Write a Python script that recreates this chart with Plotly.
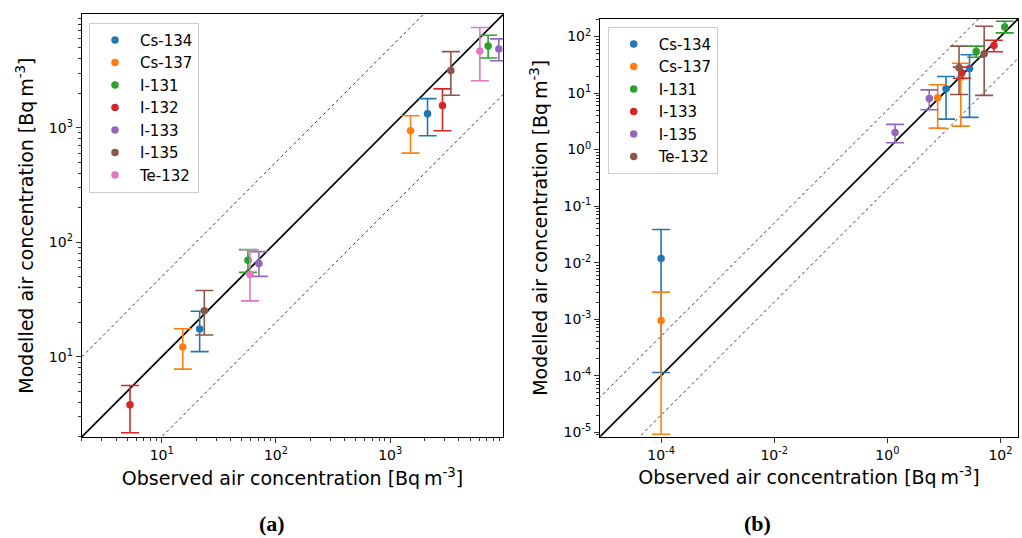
import numpy as np
import plotly.graph_objects as go

# ---------------- data: panel (a) ----------------
species_a = ["Cs-134", "Cs-137", "I-131", "I-132", "I-133", "I-135", "Te-132"]
colors_a = ["#1f77b4", "#ff7f0e", "#2ca02c", "#d62728", "#9467bd", "#8c564b", "#e377c2"]
obs_a = {
    "Cs-134": [21.5, 2123], "Cs-137": [15.3, 1507], "I-131": [56.9, 7195],
    "I-132": [5.28, 2870], "I-133": [71.0, 8930], "I-135": [23.6, 3396],
    "Te-132": [59.3, 6095],
}
mod_a = {
    "Cs-134": [17.5, 1327], "Cs-137": [12.2, 942], "I-131": [69.5, 5176],
    "I-132": [3.82, 1560], "I-133": [65.4, 4875], "I-135": [25.2, 3162],
    "Te-132": [52.2, 4677],
}
mod_a_hi = {
    "Cs-134": [25.0, 1795], "Cs-137": [17.6, 1273], "I-131": [86.3, 6410],
    "I-132": [5.61, 2183], "I-133": [82.8, 5960], "I-135": [37.9, 4613],
    "Te-132": [86.0, 7500],
}
mod_a_lo = {
    "Cs-134": [11.1, 851], "Cs-137": [7.8, 600], "I-131": [54.6, 4064],
    "I-132": [2.17, 942], "I-133": [50.4, 3846], "I-135": [15.5, 1923],
    "Te-132": [30.8, 2570],
}

# ---------------- data: panel (b) ----------------
species_b = ["Cs-134", "Cs-137", "I-131", "I-133", "I-135", "Te-132"]
colors_b = ["#1f77b4", "#ff7f0e", "#2ca02c", "#d62728", "#9467bd", "#8c564b"]
obs_b = {
    "Cs-134": [1e-4, 10.9, 28.4], "Cs-137": [1e-4, 7.76, 19.9],
    "I-131": [37.2, 119], "I-133": [20.7, 76.7], "I-135": [1.37, 5.52],
    "Te-132": [18.5, 51.5],
}
mod_b = {
    "Cs-134": [0.0118, 11.9, 27.2], "Cs-137": [9.5e-4, 8.26, 19.1],
    "I-131": [54.3, 148], "I-133": [22.9, 69.3], "I-135": [2.01, 8.04],
    "Te-132": [28.0, 49.4],
}
mod_b_hi = {
    "Cs-134": [0.0385, 19.6, 47.5], "Cs-137": [3.0e-3, 14.0, 33.7],
    "I-131": [67.5, 186], "I-133": [28.7, 86], "I-135": [2.79, 11.4],
    "Te-132": [67.5, 152],
}
mod_b_lo = {
    "Cs-134": [1.14e-4, 3.46, 3.71], "Cs-137": [9.2e-6, 2.40, 2.60],
    "I-131": [43.1, 116], "I-133": [18.3, 53.7], "I-135": [1.32, 5.07],
    "Te-132": [9.44, 9.08],
}

# axis limits (log10) and reference factor
range_a = [0.30, 3.99]
range_b = [-5.08, 2.31]
factor = 5.0

tickvals_a = [10, 100, 1000]
ticktext_a = ["10<sup>1</sup>", "10<sup>2</sup>", "10<sup>3</sup>"]
xtickvals_b = [1e-4, 1e-2, 1, 100]
xticktext_b = ["10<sup>-4</sup>", "10<sup>-2</sup>", "10<sup>0</sup>", "10<sup>2</sup>"]
ytickvals_b = [1e-5, 1e-4, 1e-3, 1e-2, 1e-1, 1, 10, 100]
yticktext_b = ["10<sup>-5</sup>", "10<sup>-4</sup>", "10<sup>-3</sup>", "10<sup>-2</sup>",
               "10<sup>-1</sup>", "10<sup>0</sup>", "10<sup>1</sup>", "10<sup>2</sup>"]

xtitle = "Observed air concentration [Bq\u2009m<sup>-3</sup>]"
ytitle = "Modelled air concentration [Bq\u2009m<sup>-3</sup>]"

W, H = 1022, 538
FONT = "DejaVu Sans"

fig = go.Figure()


def minor_vals(lo, hi):
    out = []
    for d in range(int(np.floor(lo)) - 1, int(np.ceil(hi)) + 1):
        for m in range(2, 10):
            out.append(m * 10.0 ** d)
    return out


def add_ref_lines(rng, xa, ya):
    lo, hi = 10 ** (rng[0] - 1), 10 ** (rng[1] + 1)
    xs = [lo, hi]
    fig.add_trace(go.Scatter(x=xs, y=xs, mode="lines", xaxis=xa, yaxis=ya,
                             line=dict(color="black", width=1.7), showlegend=False,
                             hoverinfo="skip"))
    for f in (factor, 1 / factor):
        fig.add_trace(go.Scatter(x=xs, y=[v * f for v in xs], mode="lines", xaxis=xa,
                                 yaxis=ya, line=dict(color="#222222", width=0.9,
                                                     dash="3px,3px"),
                                 showlegend=False, hoverinfo="skip"))


add_ref_lines(range_a, "x", "y")
add_ref_lines(range_b, "x2", "y2")

for sp, c in zip(species_a, colors_a):
    y = np.array(mod_a[sp]); hi = np.array(mod_a_hi[sp]); lo = np.array(mod_a_lo[sp])
    fig.add_trace(go.Scatter(
        x=obs_a[sp], y=y, mode="markers", name=sp, xaxis="x", yaxis="y",
        legend="legend",
        marker=dict(color=c, size=7.5),
        error_y=dict(type="data", symmetric=False, array=hi - y, arrayminus=y - lo,
                     color=c, thickness=1.6, width=9),
    ))

for sp, c in zip(species_b, colors_b):
    y = np.array(mod_b[sp]); hi = np.array(mod_b_hi[sp]); lo = np.array(mod_b_lo[sp])
    fig.add_trace(go.Scatter(
        x=obs_b[sp], y=y, mode="markers", name=sp, xaxis="x2", yaxis="y2",
        legend="legend2",
        marker=dict(color=c, size=7.5),
        error_y=dict(type="data", symmetric=False, array=hi - y, arrayminus=y - lo,
                     color=c, thickness=1.6, width=9),
    ))

axis_common = dict(type="log", showgrid=False, zeroline=False, showline=True,
                   linecolor="black", linewidth=1, mirror=True, ticks="outside",
                   ticklen=5, tickwidth=1, tickcolor="#333333", automargin=False,
                   tickfont=dict(family=FONT, size=14, color="black"),
                   tickmode="array")

legend_common = dict(xanchor="left", yanchor="top", bgcolor="rgba(255,255,255,0.8)",
                     bordercolor="#cccccc", borderwidth=1, itemwidth=40,
                     font=dict(family=FONT, size=15), tracegroupgap=0)

fig.update_layout(
    width=W, height=H, margin=dict(l=0, r=0, t=0, b=0, autoexpand=False),
    paper_bgcolor="white", plot_bgcolor="white",
    font=dict(family=FONT, color="black"),
    xaxis=dict(axis_common, domain=[81.7 / W, 503.3 / W], range=range_a,
               tickvals=tickvals_a, ticktext=ticktext_a, anchor="y",
               minor=dict(ticks="outside", ticklen=3, tickcolor="#333333",
                          tickmode="array", tickvals=minor_vals(*range_a)),
               title=dict(text=xtitle, font=dict(family=FONT, size=19), standoff=9)),
    yaxis=dict(axis_common, domain=[1 - 437 / H, 1 - 14.3 / H], range=range_a,
               tickvals=tickvals_a, ticktext=ticktext_a, anchor="x",
               minor=dict(ticks="outside", ticklen=3, tickcolor="#333333",
                          tickmode="array", tickvals=minor_vals(*range_a)),
               title=dict(text=ytitle, font=dict(family=FONT, size=19), standoff=10)),
    xaxis2=dict(axis_common, domain=[600 / W, 1018 / W], range=range_b,
                tickvals=xtickvals_b, ticktext=xticktext_b, anchor="y2",
                title=dict(text=xtitle, font=dict(family=FONT, size=19), standoff=9)),
    yaxis2=dict(axis_common, domain=[1 - 436.7 / H, 1 - 19 / H], range=range_b,
                tickvals=ytickvals_b, ticktext=yticktext_b, anchor="x2",
                minor=dict(ticks="outside", ticklen=3, tickcolor="#333333",
                           tickmode="array", tickvals=minor_vals(*range_b)),
                title=dict(text=ytitle, font=dict(family=FONT, size=19), standoff=10)),
    legend=dict(legend_common, x=89 / W, y=1 - 22.7 / H),
    legend2=dict(legend_common, x=607.7 / W, y=1 - 26.7 / H),
    annotations=[
        dict(text="<b>(a)</b>", x=257 / W, y=1 - 523 / H, xref="paper", yref="paper",
             yanchor="middle", showarrow=False,
             font=dict(family="Liberation Serif", size=22)),
        dict(text="<b>(b)</b>", x=773 / W, y=1 - 523 / H, xref="paper", yref="paper",
             yanchor="middle", showarrow=False,
             font=dict(family="Liberation Serif", size=22)),
    ],
)

fig.write_html("out.html", config={"displayModeBar": False},
               post_script="document.body.style.margin='0';document.body.style.overflow='hidden';")
